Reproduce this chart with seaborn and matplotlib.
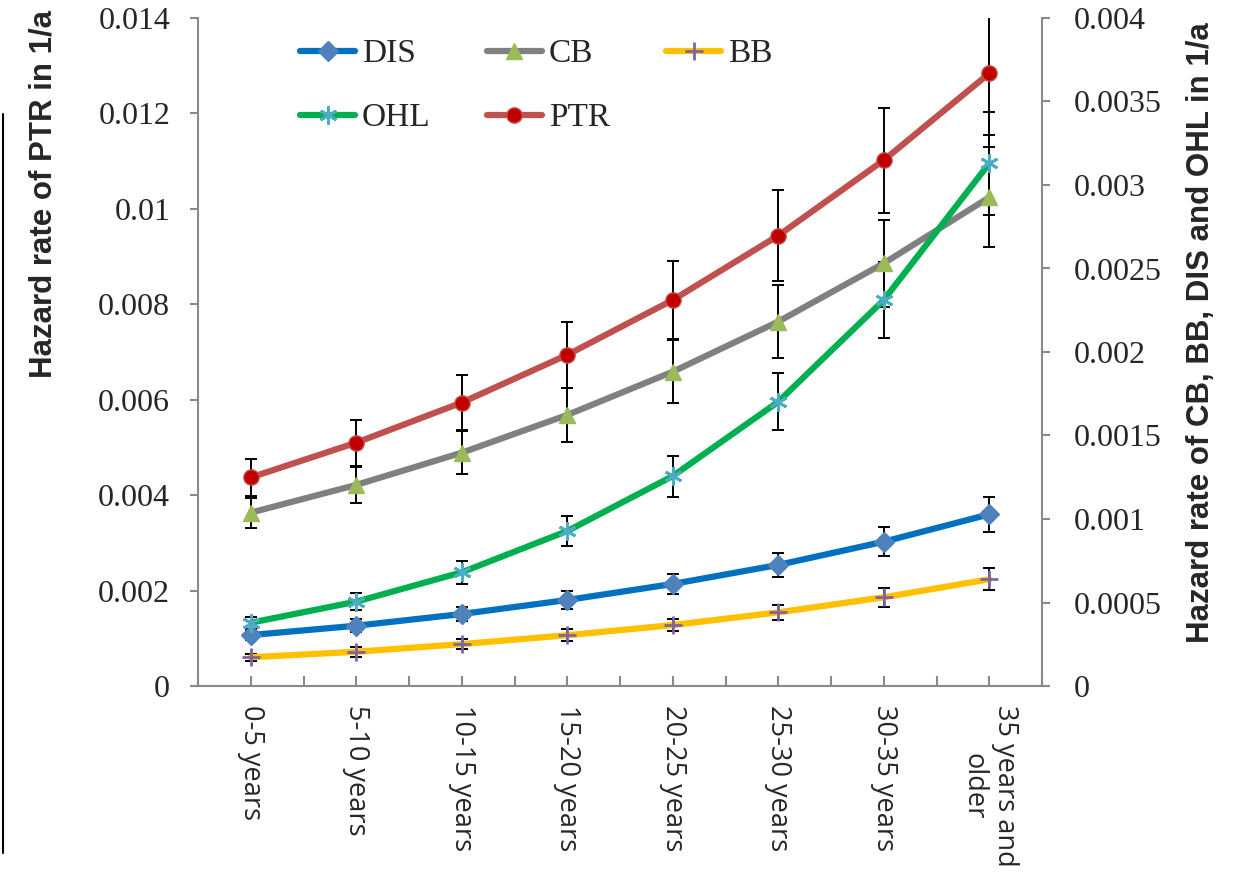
import numpy as np
import matplotlib
matplotlib.use("Agg")
import matplotlib.pyplot as plt
from matplotlib.lines import Line2D
import seaborn as sns

categories = ["0-5 years", "5-10 years", "10-15 years", "15-20 years",
              "20-25 years", "25-30 years", "30-35 years", "35 years and\nolder"]

# left axis
ptr = [0.00437, 0.00510, 0.00594, 0.00694, 0.00809, 0.00944, 0.01102, 0.01284]
ptr_err = [0.00039, 0.00048, 0.00057, 0.00069, 0.00081, 0.00096, 0.00110, 0.00130]

# right axis
dis = [0.000305, 0.000361, 0.000431, 0.000515, 0.000611, 0.000725, 0.000864, 0.001028]
dis_err = [0.000030, 0.000040, 0.000043, 0.000052, 0.000060, 0.000073, 0.000086, 0.000105]
cb = [0.001038, 0.001204, 0.001397, 0.001623, 0.001882, 0.002182, 0.002531, 0.002926]
cb_err = [0.00009, 0.00011, 0.00013, 0.00016, 0.00019, 0.00022, 0.00026, 0.00030]
bb = [0.000172, 0.000205, 0.000251, 0.000304, 0.000365, 0.000441, 0.000531, 0.000639]
bb_err = [0.000020, 0.000030, 0.000030, 0.000035, 0.000038, 0.000045, 0.000055, 0.000065]
ohl = [0.000379, 0.000505, 0.000681, 0.000928, 0.001257, 0.001702, 0.002311, 0.003130]
ohl_err = [0.000036, 0.000050, 0.000068, 0.000090, 0.000123, 0.000170, 0.000230, 0.000310]

left_ticks = [0, 0.002, 0.004, 0.006, 0.008, 0.010, 0.012, 0.014]
left_labels = ["0", "0.002", "0.004", "0.006", "0.008", "0.01", "0.012", "0.014"]
right_ticks = [0, 0.0005, 0.001, 0.0015, 0.002, 0.0025, 0.003, 0.0035, 0.004]
right_labels = ["0", "0.0005", "0.001", "0.0015", "0.002", "0.0025", "0.003", "0.0035", "0.004"]

sns.set_style("white")
plt.rcParams["font.family"] = ["Liberation Serif", "DejaVu Serif"]

gray = "#898989"
styles = {
    "DIS": dict(color="#0070C0", marker="D", mfc="#4F81BD", mec="#4F81BD", ms=10),
    "CB": dict(color="#808080", marker="^", mfc="#9BBB59", mec="#9BBB59", ms=12),
    "BB": dict(color="#FFC000", marker="+", mfc="#8064A2", mec="#8064A2", ms=13, mew=2),
    "OHL": dict(color="#00B050", marker=(6, 2, 0), mfc="#4BACC6", mec="#4BACC6", ms=13, mew=2),
    "PTR": dict(color="#C0504D", marker="o", mfc="#C00000", mec="#C0504D", ms=11),
}

fig = plt.figure(figsize=(12.34, 8.73), dpi=100)
ax = fig.add_axes([198 / 1234, 1 - 686 / 873, 844 / 1234, 668 / 873])
ax2 = ax.twinx()
x = np.arange(len(categories))


def draw(a, name, vals, errs):
    st = styles[name]
    a.errorbar(x, vals, yerr=errs, fmt="none", ecolor="black", elinewidth=1.4,
               capsize=4, capthick=1.4, zorder=2)
    sns.lineplot(x=x, y=vals, ax=a, color=st["color"], lw=4.5, marker=st["marker"],
                 markerfacecolor=st["mfc"], markeredgecolor=st["mec"],
                 markersize=st["ms"], markeredgewidth=st.get("mew", 1), zorder=3)


draw(ax, "PTR", ptr, ptr_err)
draw(ax2, "DIS", dis, dis_err)
draw(ax2, "CB", cb, cb_err)
draw(ax2, "BB", bb, bb_err)
draw(ax2, "OHL", ohl, ohl_err)

ax.set_xlim(-0.5, len(categories) - 0.5)
ax.set_ylim(0, 0.014)
ax2.set_ylim(0, 0.004)

ax.set_xticks(x)
ax.set_xticks(np.arange(-0.5, len(categories), 1), minor=True)
ax.set_xticklabels(categories, rotation=-90, ha="center", va="top",
                   multialignment="center", family=["Open Sans", "DejaVu Sans"],
                   fontsize=19.5)
ax.set_yticks(left_ticks)
ax.set_yticklabels(left_labels, fontsize=23)
ax2.set_yticks(right_ticks)
ax2.set_yticklabels(right_labels, fontsize=23)

ax.tick_params(axis="x", which="both", direction="in", length=7, width=1.5,
               color=gray, pad=14, bottom=True)
ax.tick_params(axis="y", direction="out", length=6, width=1.5, color=gray, pad=14, left=True)
ax2.tick_params(axis="y", direction="out", length=6, width=1.5, color=gray, pad=17, right=True)

for s in ["top", "right"]:
    ax.spines[s].set_visible(False)
for s in ["top", "left", "bottom"]:
    ax2.spines[s].set_visible(False)
for sp in [ax.spines["left"], ax.spines["bottom"], ax2.spines["right"]]:
    sp.set_color(gray)
    sp.set_linewidth(1.5)
ax.set_xlabel("")
ax.set_ylabel("")
ax2.set_ylabel("")
ax.grid(False)
ax2.grid(False)

handles = []
for name in ["DIS", "OHL", "CB", "PTR", "BB"]:
    st = styles[name]
    handles.append(Line2D([], [], color=st["color"], lw=4.5, marker=st["marker"],
                          markerfacecolor=st["mfc"], markeredgecolor=st["mec"],
                          markersize=st["ms"], markeredgewidth=st.get("mew", 1),
                          label=name))
fig.legend(handles=handles, ncol=3, frameon=False, fontsize=24, loc="upper left",
           bbox_to_anchor=(300 / 1234, 1 - 39 / 873), bbox_transform=fig.transFigure,
           borderpad=0, borderaxespad=0, handlelength=1.65, handletextpad=0.2,
           columnspacing=1.7, labelspacing=1.0)

fig.text(44 / 1234, 1 - 194 / 873, "Hazard rate of PTR in 1/a", rotation=90,
         ha="center", va="center", fontsize=22.5, fontweight="bold",
         family=["Liberation Sans", "DejaVu Sans"])
fig.text(1201 / 1234, 1 - 333 / 873, "Hazard rate of CB, BB, DIS and OHL in 1/a",
         rotation=90, ha="center", va="center", fontsize=22.5, fontweight="bold",
         family=["Liberation Sans", "DejaVu Sans"])

fig.add_artist(Line2D([3 / 1234, 3 / 1234], [1 - 114 / 873, 1 - 853 / 873],
                      color="black", lw=1.5, transform=fig.transFigure))

fig.savefig("out.png", dpi=100)
